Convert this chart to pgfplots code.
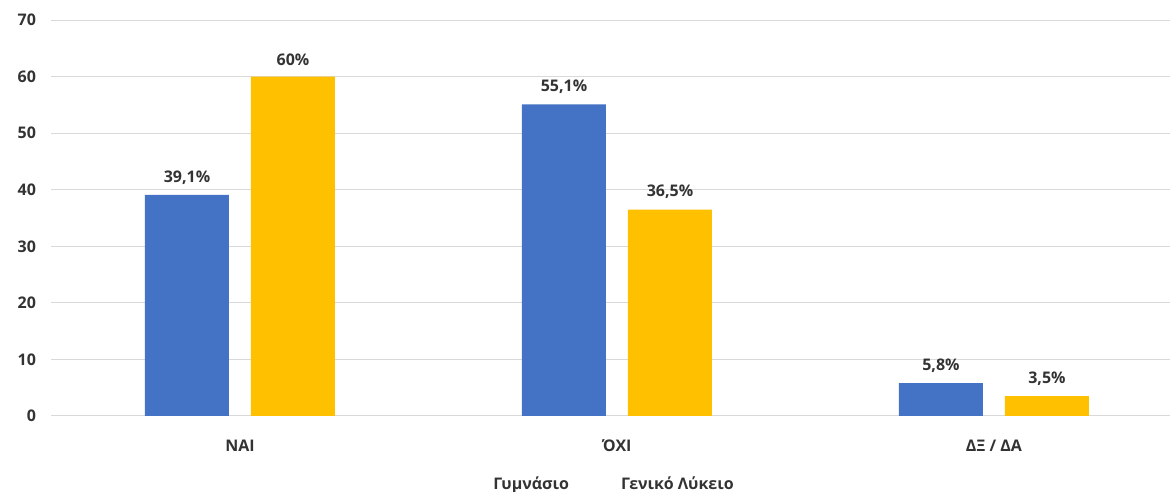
\documentclass[border=0pt]{standalone}
\usepackage{pgfplots}
\pgfplotsset{compat=1.18}
\usepackage{fontspec}
\setmainfont{Open Sans}
\definecolor{cblue}{HTML}{4472C4}
\definecolor{cyel}{HTML}{FFC000}
\definecolor{cgrid}{HTML}{D9D9D9}
\definecolor{ctext}{HTML}{333333}
\begin{document}
\begin{tikzpicture}
\begin{axis}[
  scale only axis,
  width=1118.5pt, height=396pt,
  xmin=-0.5, xmax=2.467,
  ymin=0, ymax=70,
  ytick={0,10,...,70},
  xtick={0,1,2},
  xticklabels={ΝΑΙ, ΌΧΙ, ΔΞ / ΔΑ},
  axis line style={draw=none},
  major tick length=0pt,
  ymajorgrids,
  grid style={cgrid, line width=1pt},
  /pgf/number format/assume math mode=true,
  ticklabel style={font=\fontsize{16}{19}\selectfont\bfseries, text=ctext},
  yticklabel style={xshift=-12pt},
  xticklabel style={yshift=-20pt},
  ybar, bar width=84pt,
  nodes near coords,
  point meta=explicit symbolic,
  every node near coord/.append style={font=\fontsize{16}{19}\selectfont\bfseries, text=ctext, yshift=7pt},
  legend image code/.code={},
  legend style={at={(axis description cs:0.5025,-0.172)}, anchor=center, draw=none, fill=none,
    font=\fontsize{16}{19}\selectfont\bfseries, text=ctext, legend columns=2,
    /tikz/every even column/.append style={column sep=48pt}},
  clip=false,
]
\addplot[fill=cblue, draw=none, bar shift=-53pt] coordinates {(0,39.1) [39,1\%] (1,55.1) [55,1\%] (2,5.8) [5,8\%]};
\addplot[fill=cyel, draw=none, bar shift=53pt] coordinates {(0,60) [60\%] (1,36.5) [36,5\%] (2,3.5) [3,5\%]};
\legend{Γυμνάσιο, Γενικό Λύκειο}
\coordinate (O) at (rel axis cs:0,0);
\end{axis}
\pgfresetboundingbox
\path (O) ++(-51.5pt,-76pt) rectangle ++(1170pt,492pt);
\end{tikzpicture}
\end{document}
